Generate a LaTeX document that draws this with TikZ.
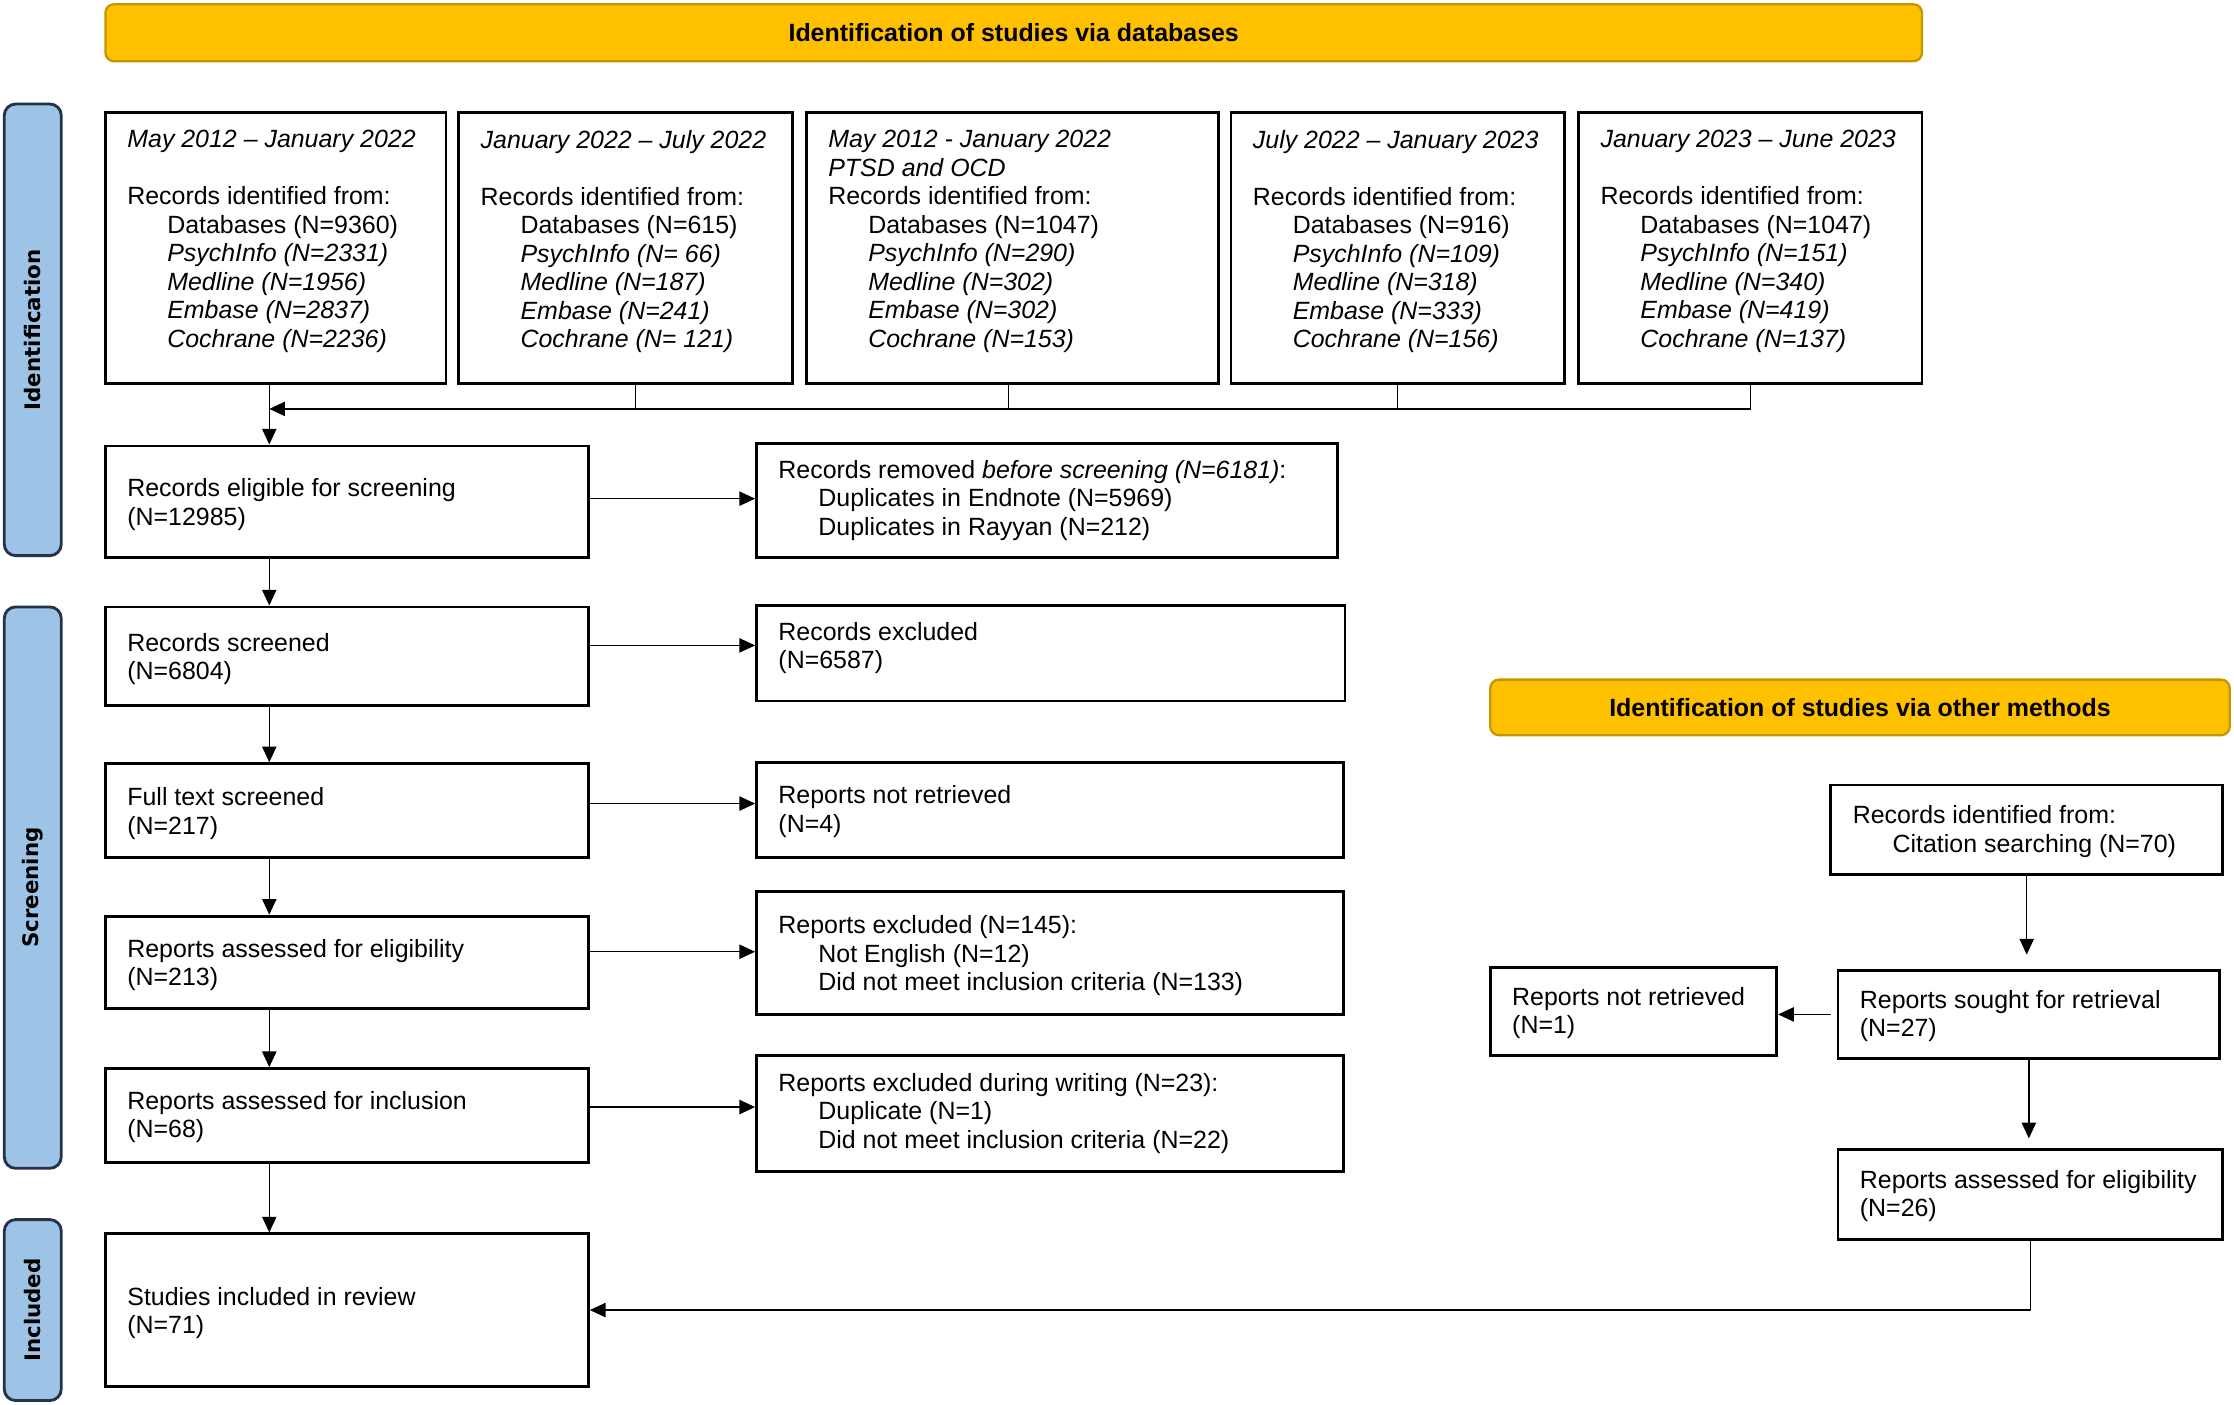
\documentclass[tikz,border=0pt]{standalone}
\usepackage{fontspec}
\setmainfont{Liberation Sans}
\newfontfamily\sidefont{DejaVu Sans}
\usetikzlibrary{arrows.meta,fit}
\definecolor{gold}{RGB}{255,192,0}
\definecolor{golddark}{RGB}{196,150,0}
\definecolor{sideblue}{RGB}{157,195,230}
\definecolor{sidedark}{RGB}{38,50,72}
\newcommand{\indt}{\hspace*{14pt}}
\begin{document}
\begin{tikzpicture}[x=0.5pt,y=-0.5pt,
  box/.style={draw=black, line width=1pt, inner sep=0pt, fill=white},
  txt/.style={font=\fontsize{8.75}{10}\selectfont, align=left, inner sep=0pt},
  banner/.style={draw=golddark, fill=gold, line width=0.8pt, rounded corners=3pt, inner sep=0pt},
  bannertxt/.style={font=\bfseries\fontsize{8.75}{10}\selectfont, inner sep=0pt},
  side/.style={draw=sidedark, fill=sideblue, line width=1pt, rounded corners=4pt, inner sep=0pt},
  sidelabel/.style={font=\sidefont\bfseries\fontsize{7.5}{9}\selectfont, rotate=90, inner sep=0pt},
  arr/.style={-{Triangle[length=5.5pt,width=5pt]}, line width=0.5pt},
  conn/.style={line width=0.5pt}]

\useasboundingbox (0,0) rectangle (1568,986);

% banners
\node[banner, fit={(74,3) (1349,43)}] (ban1) {};
\node[bannertxt] at (ban1.center) {Identification of studies via databases};
\node[banner, fit={(1046,477) (1565,516)}] (ban2) {};
\node[bannertxt] at (ban2.center) {Identification of studies via other methods};

% side bars
\node[side, fit={(3,73) (43,390)}] (sid1) {};
\node[sidelabel] at (sid1.center) {Identification};
\node[side, fit={(3,426) (43,820)}] (sid2) {};
\node[sidelabel] at (sid2.center) {Screening};
\node[side, fit={(3,856) (43,983)}] (sid3) {};
\node[sidelabel] at (sid3.center) {Included};

% top boxes
\node[box, fit={(74,79) (313,269)}] (b1) {};
\node[txt, anchor=north west] at ([shift={(8pt,-6.5pt)}]b1.north west)
  {\textit{May 2012 – January 2022}\\[10pt]Records identified from:\\\indt Databases (N=9360)\\\indt\textit{PsychInfo (N=2331)}\\\indt\textit{Medline (N=1956)}\\\indt\textit{Embase (N=2837)}\\\indt\textit{Cochrane (N=2236)}};
\node[box, fit={(322,79) (556,269)}] (b2) {};
\node[txt, anchor=north west] at ([shift={(8pt,-6.5pt)}]b2.north west)
  {\textit{January 2022 – July 2022}\\[10pt]Records identified from:\\\indt Databases (N=615)\\\indt\textit{PsychInfo (N= 66)}\\\indt\textit{Medline (N=187)}\\\indt\textit{Embase (N=241)}\\\indt\textit{Cochrane (N= 121)}};
\node[box, fit={(566,79) (855,269)}] (b3) {};
\node[txt, anchor=north west] at ([shift={(8pt,-6.5pt)}]b3.north west)
  {\textit{May 2012 - January 2022}\\\textit{PTSD and OCD}\\Records identified from:\\\indt Databases (N=1047)\\\indt\textit{PsychInfo (N=290)}\\\indt\textit{Medline (N=302)}\\\indt\textit{Embase (N=302)}\\\indt\textit{Cochrane (N=153)}};
\node[box, fit={(864,79) (1098,269)}] (b4) {};
\node[txt, anchor=north west] at ([shift={(8pt,-6.5pt)}]b4.north west)
  {\textit{July 2022 – January 2023}\\[10pt]Records identified from:\\\indt Databases (N=916)\\\indt\textit{PsychInfo (N=109)}\\\indt\textit{Medline (N=318)}\\\indt\textit{Embase (N=333)}\\\indt\textit{Cochrane (N=156)}};
\node[box, fit={(1108,79) (1349,269)}] (b5) {};
\node[txt, anchor=north west] at ([shift={(8pt,-6.5pt)}]b5.north west)
  {\textit{January 2023 – June 2023}\\[10pt]Records identified from:\\\indt Databases (N=1047)\\\indt\textit{PsychInfo (N=151)}\\\indt\textit{Medline (N=340)}\\\indt\textit{Embase (N=419)}\\\indt\textit{Cochrane (N=137)}};

% left column
\node[box, fit={(74,313) (413,391)}] (elig) {};
\node[txt, anchor=west] at ([shift={(8pt,-1pt)}]elig.west) {Records eligible for screening\\(N=12985)};
\node[box, fit={(74,426) (413,495)}] (scr) {};
\node[txt, anchor=west] at ([shift={(8pt,-1pt)}]scr.west) {Records screened\\(N=6804)};
\node[box, fit={(74,536) (413,602)}] (full) {};
\node[txt, anchor=west] at ([shift={(8pt,-1pt)}]full.west) {Full text screened\\(N=217)};
\node[box, fit={(74,643) (413,708)}] (ael) {};
\node[txt, anchor=west] at ([shift={(8pt,-1pt)}]ael.west) {Reports assessed for eligibility\\(N=213)};
\node[box, fit={(74,750) (413,816)}] (ain) {};
\node[txt, anchor=west] at ([shift={(8pt,-0.5pt)}]ain.west) {Reports assessed for inclusion\\(N=68)};
\node[box, fit={(74,866) (413,973)}] (inc) {};
\node[txt, anchor=west] at ([shift={(8pt,-1pt)}]inc.west) {Studies included in review\\(N=71)};

% right column
\node[box, fit={(531,311) (939,391)}] (rem) {};
\node[txt, anchor=west] at ([shift={(8pt,0pt)}]rem.west) {Records removed \textit{before screening (N=6181)}:\\\indt Duplicates in Endnote (N=5969)\\\indt Duplicates in Rayyan (N=212)};
\node[box, fit={(531,425) (944,492)}] (exc) {};
\node[txt, anchor=west] at ([shift={(8pt,1.75pt)}]exc.west) {Records excluded\\(N=6587)};
\node[box, fit={(531,535) (943,602)}] (nr) {};
\node[txt, anchor=west] at ([shift={(8pt,-0.5pt)}]nr.west) {Reports not retrieved\\(N=4)};
\node[box, fit={(531,626) (943,712)}] (ex145) {};
\node[txt, anchor=west] at ([shift={(8pt,-1pt)}]ex145.west) {Reports excluded (N=145):\\\indt Not English (N=12)\\\indt Did not meet inclusion criteria (N=133)};
\node[box, fit={(531,741) (943,822)}] (exw) {};
\node[txt, anchor=west] at ([shift={(8pt,0pt)}]exw.west) {Reports excluded during writing (N=23):\\\indt Duplicate (N=1)\\\indt Did not meet inclusion criteria (N=22)};

% other methods
\node[box, fit={(1285,551) (1560,614)}] (cit) {};
\node[txt, anchor=west] at ([shift={(8pt,-0.5pt)}]cit.west) {Records identified from:\\\indt Citation searching (N=70)};
\node[box, fit={(1290,681) (1558,743)}] (sought) {};
\node[txt, anchor=west] at ([shift={(8pt,-0.5pt)}]sought.west) {Reports sought for retrieval\\(N=27)};
\node[box, fit={(1046,679) (1247,741)}] (nr1) {};
\node[txt, anchor=west] at ([shift={(8pt,-0.5pt)}]nr1.west) {Reports not retrieved\\(N=1)};
\node[box, fit={(1290,807) (1560,870)}] (as26) {};
\node[txt, anchor=west] at ([shift={(8pt,-0.5pt)}]as26.west) {Reports assessed for eligibility\\(N=26)};

% connectors: identification merge
\coordinate (m) at (189,287);
\draw[arr] (b1.south -| m) -- (elig.north -| m);
\draw[arr] (b5.south) |- (m);
\draw[conn] ([xshift=3.5pt]b2.south) -- ([xshift=3.5pt]b2.south |- m);
\draw[conn] ([xshift=-1.25pt]b3.south) -- ([xshift=-1.25pt]b3.south |- m);
\draw[conn] (b4.south) -- (b4.south |- m);

% vertical flow
\draw[arr] (elig.south -| m) -- (scr.north -| m);
\draw[arr] (scr.south -| m) -- (full.north -| m);
\draw[arr] (full.south -| m) -- (ael.north -| m);
\draw[arr] (ael.south -| m) -- (ain.north -| m);
\draw[arr] (ain.south -| m) -- (inc.north -| m);

% horizontal exclusions
\draw[arr] ([yshift=1pt]elig.east) -- ([yshift=1pt]elig.east -| rem.west);
\draw[arr] ([yshift=3.75pt]scr.east) -- ([yshift=3.75pt]scr.east -| exc.west);
\draw[arr] ([yshift=2.5pt]full.east) -- ([yshift=2.5pt]full.east -| nr.west);
\draw[arr] ([yshift=3.75pt]ael.east) -- ([yshift=3.75pt]ael.east -| ex145.west);
\draw[arr] ([yshift=3pt]ain.east) -- ([yshift=3pt]ain.east -| exw.west);

% other methods flow
\draw[arr, shorten >=5pt] (cit.south) -- (cit.south |- sought.north);
\draw[arr] ([xshift=-2pt]sought.west) -- (sought.west -| nr1.east);
\draw[arr, shorten >=3.5pt] (sought.south) -- (sought.south |- as26.north);
\draw[arr] (as26.south) |- (inc.east);
\end{tikzpicture}
\end{document}
